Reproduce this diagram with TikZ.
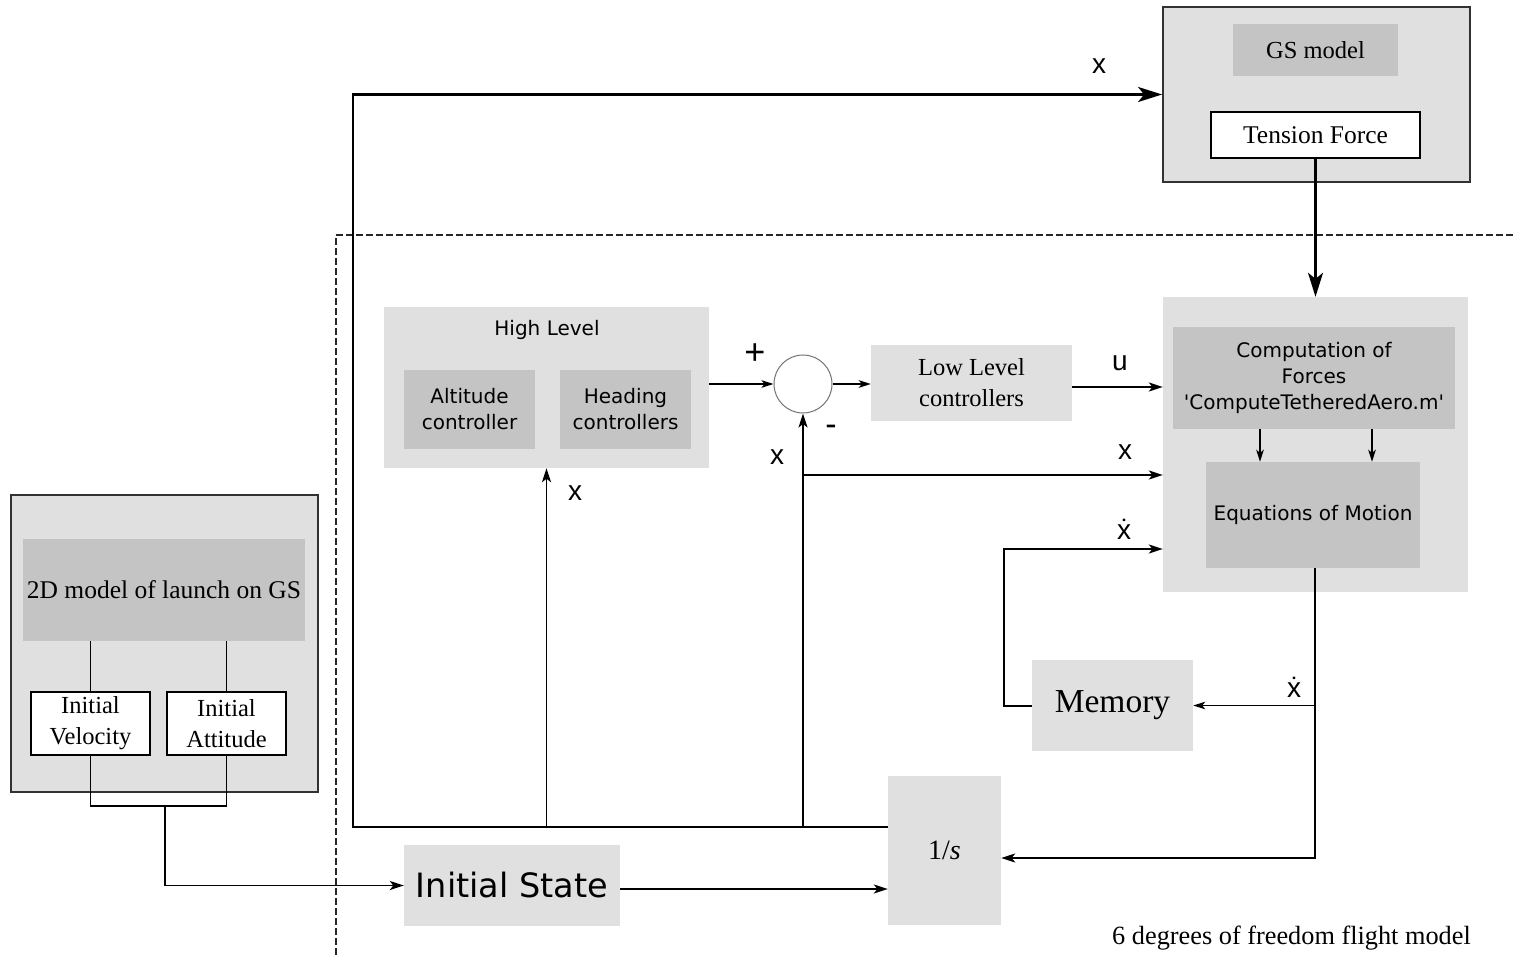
\documentclass[tikz,border=0pt]{standalone}
\usepackage{fontspec}
\setmainfont{Liberation Serif}
\newfontfamily\dvsans{DejaVu Sans}
\newfontfamily\lsans{Liberation Sans}
\usetikzlibrary{arrows.meta,calc}
\definecolor{boxlight}{RGB}{224,224,224}
\definecolor{boxdark}{RGB}{196,196,196}
\definecolor{frame}{RGB}{50,50,50}
\begin{document}
\begin{tikzpicture}[x=1pt,y=-1pt,
  lightbox/.style={fill=boxlight,draw=none,inner sep=0pt},
  darkbox/.style={fill=boxdark,draw=none,inner sep=0pt},
  framebox/.style={fill=boxlight,draw=frame,line width=1.8pt,inner sep=0pt},
  whitebox/.style={fill=white,draw=black,line width=1.7pt,inner sep=0pt},
  serif/.style={font=\fontsize{24.5}{31}\selectfont,align=center},
  sans/.style={font=\dvsans\fontsize{20}{26}\selectfont,align=center},
  lbl/.style={font=\lsans\fontsize{28}{30}\selectfont,inner sep=0pt},
  wire/.style={line width=1.8pt,draw=black},
  arr/.style={wire,-{Stealth[length=14pt,width=9pt,inset=3.5pt]}},
  arrsmall/.style={wire,-{Stealth[length=12pt,width=7.5pt,inset=3pt]}},
  arrbig/.style={line width=2.1pt,draw=black,-{Stealth[length=24pt,width=15pt,inset=6pt]}},
]
\useasboundingbox (0,0) rectangle (1516,957);

% ground station block
\node[framebox,minimum width=307,minimum height=175] (gs) at (1316.5,94.5) {};
\node[darkbox,minimum width=165,minimum height=52,serif] (gsm) at (1315.5,50) {GS model};
\node[whitebox,minimum width=209,minimum height=46,serif,font=\fontsize{25.5}{31}\selectfont] (tens) at (1315.5,135) {Tension Force};

% boundary of the flight model
\coordinate (dashB) at (336,955);
\coordinate (dashC) at (336,235);
\coordinate (dashR) at (1516,235);
\draw[line width=1.2pt,dash pattern=on 7pt off 3pt,draw=black!85] (dashB) -- (dashC) -- (dashR);

% dynamics block
\node[lightbox,minimum width=305,minimum height=295] (comp) at (1315.5,444.5) {};
\node[darkbox,minimum width=282,minimum height=102,sans] (cf) at (1314,378)
  {Computation of\\Forces\\'ComputeTetheredAero.m'};
\node[darkbox,minimum width=214,minimum height=106,sans] (eom) at (1313,515) {Equations of Motion};
\coordinate (cfa) at (1260,429);
\coordinate (cfb) at (1372,429);
\draw[arrsmall] (cfa) -- (cfa |- eom.north);
\draw[arrsmall] (cfb) -- (cfb |- eom.north);

% controllers
\node[lightbox,minimum width=325,minimum height=161] (hl) at (546.5,387.5) {};
\node[sans] (hltxt) at (547,330) {High Level};
\node[darkbox,minimum width=131,minimum height=79,sans] (alt) at (469.5,409.5) {Altitude\\controller};
\node[darkbox,minimum width=131,minimum height=79,sans] (head) at (625.5,409.5) {Heading\\controllers};
\node[circle,draw=black!55,line width=1pt,fill=white,minimum size=58,inner sep=0pt] (sum) at (803,384) {};
\node[lightbox,minimum width=201,minimum height=76,serif] (ll) at (971.5,383) {Low Level\\controllers};

% integrator, memory, initial state
\node[lightbox,minimum width=113,minimum height=149,font=\fontsize{28}{34}\selectfont] (integ) at (944.5,850.5) {1/\textit{s}};
\node[lightbox,minimum width=161,minimum height=91,font=\fontsize{33.5}{40}\selectfont] (mem) at (1112.5,705.5) {Memory};
\node[lightbox,minimum width=216,minimum height=81,font=\dvsans\fontsize{33.5}{38}\selectfont] (inst) at (512,885.5) {Initial State};

% launch model block
\node[framebox,minimum width=307,minimum height=297] (lm) at (164.5,643.5) {};
\node[darkbox,minimum width=282,minimum height=102,serif,font=\fontsize{25.5}{31}\selectfont] (m2d) at (164,590) {2D model of launch on GS};
\node[whitebox,minimum width=119,minimum height=63,serif] (vel) at (90.5,723.5) {Initial\\Velocity};
\node[whitebox,minimum width=119,minimum height=63,serif] (att) at (226.5,723.5) {Initial\\Attitude};

% launch model wiring
\draw[wire] (m2d.south -| vel.north) -- (vel.north);
\draw[wire] (m2d.south -| att.north) -- (att.north);
\coordinate (join) at (165,806);
\draw[wire] (vel.south) |- (join) -| (att.south);
\draw[arr] (join) |- (inst.west);

% state bus
\coordinate (busL) at (353,827);
\coordinate (busR) at (888,827);
\draw[arrbig] (busR) -- (busL) |- (gs.west);
\draw[arr] (hl.south |- busL) -- (hl.south);
\draw[arr] (sum.south |- busL) -- (sum.south);
\coordinate (tap) at (803,475);
\draw[arr] (tap) -- (comp.west |- tap);

% forward path
\draw[arrsmall] (hl.east |- sum) -- (sum.west);
\draw[arrsmall] (sum.east) -- (ll.west |- sum);
\coordinate (uin) at (1072,387);
\draw[arr] (uin) -- (comp.west |- uin);

% tension force into dynamics
\draw[arrbig] (tens.south) -- (comp.north);

% derivative and integration loop
\coordinate (eomdown) at (1315,858);
\draw[arr] (eom.south -| eomdown) -- (eomdown) -- (integ.east |- eomdown);
\draw[arrsmall] (eomdown |- mem.east) -- (mem.east);
\coordinate (memL) at (1004,706);
\coordinate (xdin) at (1004,549);
\draw[arr] (mem.west |- memL) -- (memL) -- (xdin) -- (comp.west |- xdin);
\draw[arr] (inst.east |- 0,889) -- (integ.west |- 0,889);

% signal labels
\node[lbl] (lx1) at (1099,66) {x};
\node[lbl] (lu) at (1120,363) {u};
\node[lbl] (lx2) at (1125,452) {x};
\node[lbl] (lxd1) at (1124,529) {\.{x}};
\node[lbl] (lxd2) at (1294,687) {\.{x}};
\node[lbl] (lx3) at (777,457) {x};
\node[lbl] (lx4) at (575,493) {x};
\node[lbl,font=\lsans\fontsize{36}{38}\selectfont] (lplus) at (755,354) {+};
\node[lbl,font=\lsans\fontsize{34}{38}\selectfont] (lminus) at (831,430) {-};

% caption of the boundary
\node[anchor=east,inner sep=0pt,font=\fontsize{26.3}{30}\selectfont] (cap) at (1471,938) {6 degrees of freedom flight model};
\end{tikzpicture}
\end{document}
